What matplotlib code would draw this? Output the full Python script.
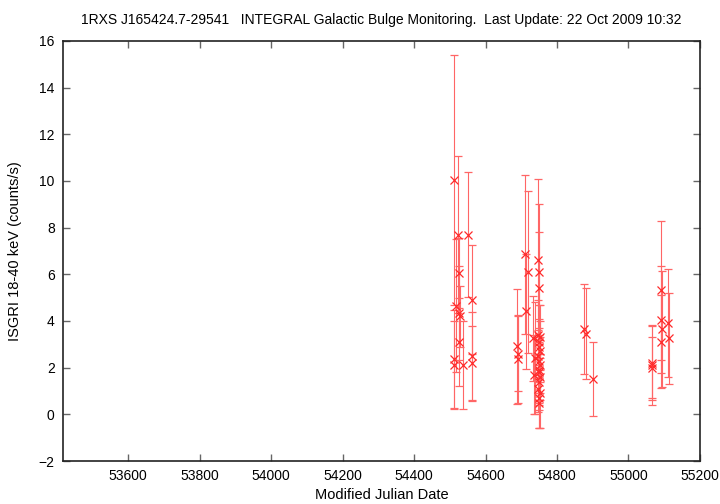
import matplotlib
matplotlib.use("Agg")
import matplotlib.pyplot as plt

plt.rcParams["font.family"] = ["Liberation Sans", "DejaVu Sans"]

# light curve values (MJD, rate, error)
mjd = [54512, 54512, 54513, 54518, 54524, 54525, 54526, 54528, 54525, 54536,
       54550, 54561, 54562, 54563,
       54689, 54690, 54691, 54711, 54712, 54720, 54734, 54735, 54738,
       54748, 54749, 54750, 54747, 54752, 54749, 54751, 54753, 54748, 54750,
       54752, 54749, 54751, 54753, 54750, 54748, 54752, 54750, 54751,
       54876, 54880, 54901,
       55065, 55066, 55067, 55091, 55092, 55093, 55091, 55111, 55112]
rate = [10.03, 2.37, 2.12, 4.66, 7.70, 6.06, 4.34, 4.20, 3.10, 2.12,
        7.70, 4.91, 2.48, 2.20,
        2.91, 2.60, 2.37, 6.85, 4.41, 6.10, 3.25, 1.70, 2.40,
        6.60, 6.10, 5.40, 3.40, 3.30, 3.10, 2.90, 2.70, 2.50, 2.30,
        2.10, 1.90, 1.80, 1.60, 1.40, 1.10, 0.90, 0.70, 0.50,
        3.66, 3.46, 1.51,
        2.12, 2.00, 2.20, 5.31, 4.06, 3.66, 3.12, 3.91, 3.27]
err = [5.36, 2.10, 1.90, 2.86, 3.37, 1.50, 2.00, 1.30, 1.90, 1.90,
       2.68, 2.34, 1.90, 1.60,
       2.45, 1.60, 1.90, 3.42, 2.46, 3.46, 1.80, 1.70, 2.40,
       3.50, 2.90, 2.40, 1.50, 1.40, 1.60, 1.20, 1.30, 1.10, 1.40,
       1.20, 1.50, 1.30, 1.00, 1.20, 1.00, 1.50, 1.30, 1.10,
       1.94, 1.96, 1.60,
       1.70, 1.30, 1.60, 2.96, 2.30, 2.50, 2.00, 2.30, 1.95]

fig = plt.figure(figsize=(7.2, 5.04), dpi=100)
ax = fig.add_axes([0.0875, 0.0853, 0.8847, 0.8334])

ax.errorbar(mjd, rate, yerr=err, fmt="x", color="#ff2a2a", ecolor="#ff6666",
            elinewidth=0.8, capsize=3, capthick=0.8, markersize=6, mew=0.9)

ax.set_xlim(53418, 55200)
ax.set_ylim(-2, 16)
ax.set_xticks(range(53600, 55201, 200))
ax.set_yticks(range(-2, 17, 2))
ax.tick_params(direction="in", top=True, right=True, length=5, width=1,
               labelsize=10, color="#666666", pad=6)
for s in ax.spines.values():
    s.set_linewidth(1.2)
    s.set_color("#222222")

ax.set_xlabel("Modified Julian Date", fontsize=10.5)
ax.set_ylabel("ISGRI 18-40 keV (counts/s)", fontsize=10.5)
ax.xaxis.set_label_coords(0.5, -0.081)
ax.yaxis.set_label_coords(-0.075, 0.5)
ax.xaxis.label.set_va("center")
ax.yaxis.label.set_va("center")
fig.text(0.529, 0.961, "1RXS J165424.7-29541   INTEGRAL Galactic Bulge Monitoring.  "
         "Last Update: 22 Oct 2009 10:32", ha="center", va="center", fontsize=10)

fig.savefig("out.png", dpi=100)
